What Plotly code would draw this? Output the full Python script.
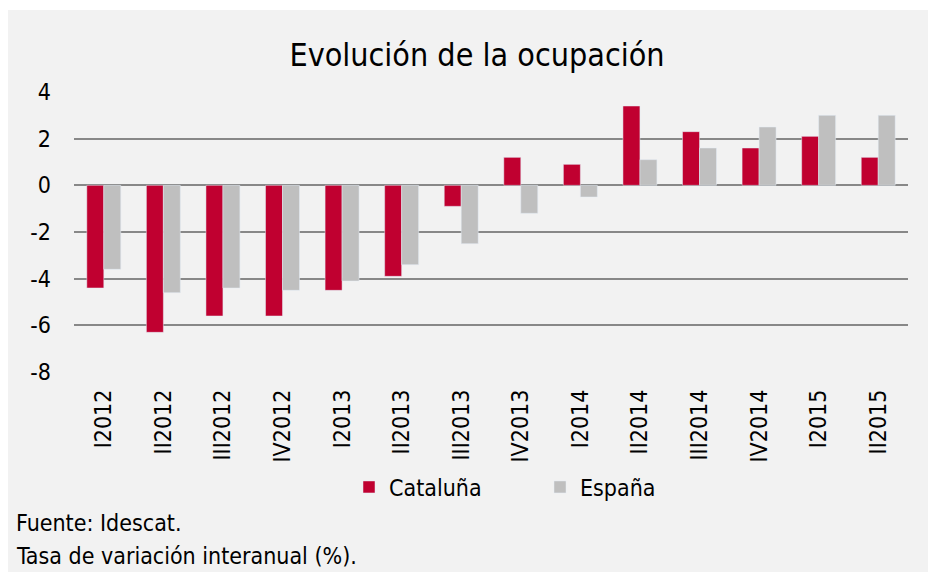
import plotly.graph_objects as go

# Data
trimestres = ['I2012', 'II2012', 'III2012', 'IV2012', 'I2013', 'II2013', 'III2013',
              'IV2013', 'I2014', 'II2014', 'III2014', 'IV2014', 'I2015', 'II2015']
cataluna = [-4.4, -6.3, -5.6, -5.6, -4.5, -3.9, -0.9, 1.2, 0.9, 3.4, 2.3, 1.6, 2.1, 1.2]
espana = [-3.6, -4.6, -4.4, -4.5, -4.1, -3.4, -2.5, -1.2, -0.5, 1.1, 1.6, 2.5, 3.0, 3.0]
y_ticks = [-8, -6, -4, -2, 0, 2, 4]
y_labels = ['-8', '-6', '-4', '-2', '0', '2', '4']

FONT = 'DejaVu Sans Condensed, Liberation Sans Narrow, sans-serif'
RED = '#C00030'
GREY = '#BFBFBF'
BG = '#F2F2F2'

# page has an 8px body margin, so the figure is drawn 8px smaller and shifted
O = 8
W, H = 936 - O, 572 - O
# plot area on the page: x 74..908, y 92..372
L, R, T, B = 74 - O, 936 - 908, 92 - O, 572 - 372
pw, ph = W - L - R, H - T - B

def px(x):
    return (x - O - L) / pw

def py(y):
    return (H - B - (y - O)) / ph

fig = go.Figure()
fig.add_trace(go.Bar(x=trimestres, y=cataluna, name='Cataluña', marker_color=RED))
fig.add_trace(go.Bar(x=trimestres, y=espana, name='España', marker_color=GREY))

# grey panel behind everything (white strip on top and left like the source)
fig.add_shape(type='rect', xref='paper', yref='paper', layer='below',
              x0=px(O), x1=px(940), y0=py(580), y1=py(10),
              fillcolor=BG, line_width=0)

fig.add_annotation(text='Fuente: Idescat.', xref='paper', yref='paper',
                   x=px(14), y=py(523), xanchor='left', yanchor='middle',
                   showarrow=False, font=dict(size=23, color='#000000', family=FONT))
fig.add_annotation(text='Tasa de variación interanual (%).', xref='paper', yref='paper',
                   x=px(14), y=py(556), xanchor='left', yanchor='middle',
                   showarrow=False, font=dict(size=23, color='#000000', family=FONT))

fig.update_layout(
    width=W, height=H,
    margin=dict(l=L, r=R, t=T, b=B),
    paper_bgcolor='white',
    plot_bgcolor='rgba(0,0,0,0)',
    font=dict(family=FONT, size=23, color='#000000'),
    title=dict(text='Evolución de la ocupación', x=(477 - O) / W, xanchor='center',
               y=1 - (55 - O) / H, yanchor='middle', yref='container',
               font=dict(size=32, family=FONT, color='#000000')),
    barmode='group', bargap=0.43, bargroupgap=0,
    legend=dict(orientation='h', x=px(540), xanchor='center', y=py(487), yanchor='middle',
                bgcolor='rgba(0,0,0,0)', font=dict(size=23),
                entrywidth=146, entrywidthmode='pixels'),
    xaxis=dict(tickangle=-90, showgrid=False, showline=False, ticks='',
               ticklabelstandoff=12, tickfont=dict(size=23)),
    yaxis=dict(range=[-8, 4], tickvals=y_ticks, ticktext=y_labels,
               showgrid=True, gridcolor='#888888', gridwidth=2,
               zeroline=True, zerolinecolor='#888888', zerolinewidth=2,
               showline=False, ticks='', ticklabelstandoff=22, tickfont=dict(size=23)),
)

fig.write_html('out.html')
